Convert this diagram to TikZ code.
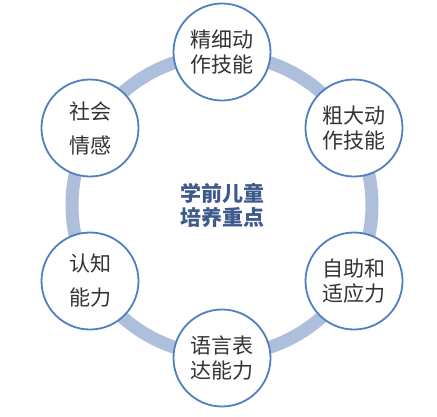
\documentclass[tikz,border=0pt]{standalone}
\usepackage{fontspec}
\usepackage{xcolor}
\newfontfamily\cjk{Noto Sans CJK SC}
\usetikzlibrary{positioning, calc}
\definecolor{ringblue}{HTML}{AEBFDC}
\definecolor{edgeblue}{HTML}{4F7FBF}
\definecolor{coreink}{HTML}{3D5A8A}
\definecolor{textink}{HTML}{333333}

\begin{document}
\begin{tikzpicture}[x=1pt, y=-1pt,
  topic/.style={circle, draw=edgeblue, line width=1.8pt, fill=white, minimum size=97pt, inner sep=0pt, align=center, text=textink, font=\cjk\fontsize{21}{25}\selectfont},
  topicwide/.style={topic, font=\cjk\fontsize{21}{34}\selectfont},
  core/.style={align=center, text=coreink, font=\cjk\bfseries\fontsize{21}{24}\selectfont}
]
  \useasboundingbox (0,0) rectangle (437,416);
  \node[core] (focus) at (222,205) {学前儿童\\培养重点};
  \draw[ringblue, line width=13pt] (focus) circle[radius=150];

  \node[topic] (fine) at ($(focus)+(0,-153)$) {精细动\\作技能};
  \node[topic] (gross) at ($(focus)+(132,-77)$) {粗大动\\作技能};
  \node[topic] (selfcare) at ($(focus)+(132,76)$) {自助和\\适应力};
  \node[topic] (speech) at ($(focus)+(0,153)$) {语言表\\达能力};
  \node[topicwide] (cognition) at ($(focus)+(-132,76)$) {认知\\能力};
  \node[topicwide] (social) at ($(focus)+(-132,-77)$) {社会\\情感};
\end{tikzpicture}
\end{document}
